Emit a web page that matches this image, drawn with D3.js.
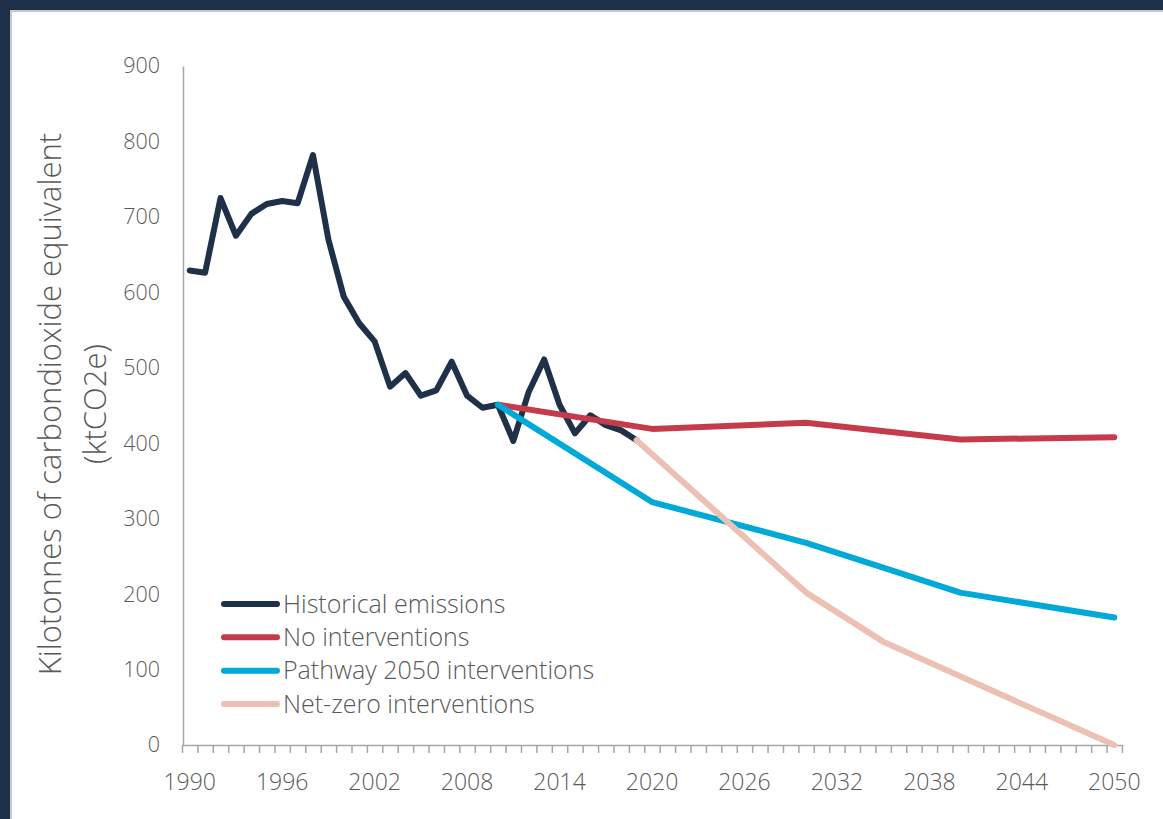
<!DOCTYPE html>
<html><head><meta charset="utf-8">
<script src="https://cdn.jsdelivr.net/npm/d3@7"></script>
<style>
html,body{margin:0;padding:0;background:#1e2f4a;width:1163px;height:819px;overflow:hidden}
#panel{position:absolute;left:10px;top:10px;width:1153px;height:809px;background:#fff;border-left:2px solid #c9c9c9;border-top:2px solid #c9c9c9;box-sizing:border-box}
svg{position:absolute;left:0;top:0}
text{font-family:"Open Sans",sans-serif;font-weight:300;fill:#595959}
</style></head><body><div id="panel"></div>
<svg id="chart" width="1163" height="819"></svg>
<script>
// ---- data ----
const years = d3.range(1990, 2051);
const xTickLabels = [1990, 1996, 2002, 2008, 2014, 2020, 2026, 2032, 2038, 2044, 2050];
const yTickValues = [0, 100, 200, 300, 400, 500, 600, 700, 800, 900];

const historicalYears = [1990,1991,1992,1993,1994,1995,1996,1997,1998,1999,2000,2001,2002,2003,2004,2005,2006,2007,2008,2009,2010,2011,2012,2013,2014,2015,2016,2017,2018,2019];
const historicalValues = [629,626,725,675,704,717,721,718,782,670,594,559,535,475,493,463,470,508,463,447,451,403,468,511,451,413,437,424,417,404];

const noIntYears = [2010, 2020, 2030, 2040, 2050];
const noIntValues = [451, 419, 427, 405, 408];

const pathwayYears = [2010, 2020, 2030, 2035, 2040, 2050];
const pathwayValues = [451, 322, 268, 235, 202, 169];

const netZeroYears = [2019, 2030, 2035, 2040, 2050];
const netZeroValues = [404, 202, 137, 91, 0];

const seriesNames = ["Historical emissions", "No interventions", "Pathway 2050 interventions", "Net-zero interventions"];
const seriesColors = ["#1f3049", "#c63b4b", "#00a9d7", "#ecc0b3"];

// ---- chart ----
const svg = d3.select("#chart");
const x = d3.scaleBand().domain(years).range([182, 1122]).padding(0);
const cx = yr => x(yr) + x.bandwidth() / 2;
const xEdges = d3.scaleLinear().domain([1989.5, 2050.5]).range([182, 1122]);
const y = d3.scaleLinear().domain([0, 900]).range([745, 66]);

const axisColor = "#a6a6a6";
const fontFam = '"Open Sans", sans-serif';

// x tick marks (between categories)
const edgeVals = years.map(v => v - 0.5).concat([2050.5]);
const gxt = svg.append("g").attr("transform", "translate(0,745)")
  .call(d3.axisBottom(xEdges).tickValues(edgeVals).tickSize(8).tickSizeOuter(0).tickFormat(""));
gxt.selectAll("line").attr("stroke", axisColor).attr("stroke-width", 1.5);
gxt.select(".domain").attr("stroke", axisColor).attr("stroke-width", 1.5);

// x labels
const gxl = svg.append("g").attr("transform", "translate(0,745)")
  .call(d3.axisBottom(x).tickValues(xTickLabels).tickSize(0).tickPadding(29));
gxl.select(".domain").remove();
gxl.selectAll("text").attr("font-size", 23).attr("fill", "#595959")
  .style("font-family", fontFam).style("font-weight", 300);

// y axis
const gy = svg.append("g").attr("transform", "translate(183,0)")
  .call(d3.axisLeft(y).tickValues(yTickValues).tickSize(0).tickPadding(23));
gy.select(".domain").attr("stroke", axisColor).attr("stroke-width", 1.5);
gy.selectAll("text").attr("font-size", 21.5).attr("fill", "#595959")
  .style("font-family", fontFam).style("font-weight", 300);

// y title
const ttl = svg.append("g");
ttl.append("text").attr("transform", "translate(50,404) rotate(-90)").attr("text-anchor", "middle")
  .attr("dy", "0.35em").attr("font-size", 31).text("Kilotonnes of carbondioxide equivalent");
ttl.append("text").attr("transform", "translate(95,404) rotate(-90)").attr("text-anchor", "middle")
  .attr("dy", "0.35em").attr("font-size", 31).text("(ktCO2e)");

// lines
const line = d3.line().x(d => cx(d[0])).y(d => y(d[1]));
const seriesData = [
  d3.zip(historicalYears, historicalValues),
  d3.zip(noIntYears, noIntValues),
  d3.zip(pathwayYears, pathwayValues),
  d3.zip(netZeroYears, netZeroValues)
];
seriesData.forEach((data, i) => {
  svg.append("path").attr("d", line(data)).attr("fill", "none")
    .attr("stroke", seriesColors[i]).attr("stroke-width", 6)
    .attr("stroke-linejoin", "round").attr("stroke-linecap", "round");
});

// legend
const legendY = d3.scaleLinear().domain([0, 3]).range([604, 704]);
seriesNames.forEach((name, i) => {
  const ly = legendY(i);
  svg.append("line").attr("x1", 224).attr("x2", 277).attr("y1", ly).attr("y2", ly)
    .attr("stroke", seriesColors[i]).attr("stroke-width", 6).attr("stroke-linecap", "round");
  svg.append("text").attr("x", 283).attr("y", ly).attr("dy", "0.35em").attr("font-size", 25).text(name);
});
</script></body></html>
